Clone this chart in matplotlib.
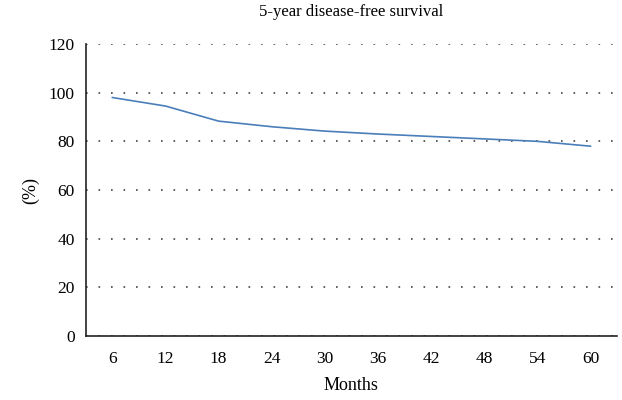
import numpy as np
import matplotlib.pyplot as plt

plt.rcParams['font.family'] = ['Liberation Serif', 'DejaVu Serif']

months = ["6", "12", "18", "24", "30", "36", "42", "48", "54", "60"]
survival = [98, 94.5, 88.3, 86, 84.2, 83, 82, 81, 80, 78]

fig = plt.figure(figsize=(6.22, 4.0), dpi=100)
ax = fig.add_axes([0.138, 0.16, 0.854, 0.73])

x = np.arange(len(months))
ax.plot(x, survival, color="#4a7ebb", linewidth=1.2)

ax.set_xlim(-0.5, len(months) - 0.5)
ax.set_ylim(0, 120)
ax.set_yticks(range(0, 121, 20))
ax.set_xticks(x)
ax.set_xticklabels(months)
ax.tick_params(length=0, labelsize=12.5)
ax.tick_params(axis="x", pad=11)
ax.tick_params(axis="y", pad=8)

for s in ["top", "right"]:
    ax.spines[s].set_visible(False)
for s in ["left", "bottom"]:
    ax.spines[s].set_linewidth(1.2)
    ax.spines[s].set_color("#222222")

ax.yaxis.grid(True, linestyle=(0, (1, 6.5)), color="#444444", linewidth=1.2)
ax.set_axisbelow(True)

ax.set_title("5-year disease-free survival", fontsize=12, pad=20)
ax.set_xlabel("Months", fontsize=13, labelpad=7)
ax.set_ylabel("(%)", fontsize=13, labelpad=7)

fig.savefig("out.png", dpi=100)
